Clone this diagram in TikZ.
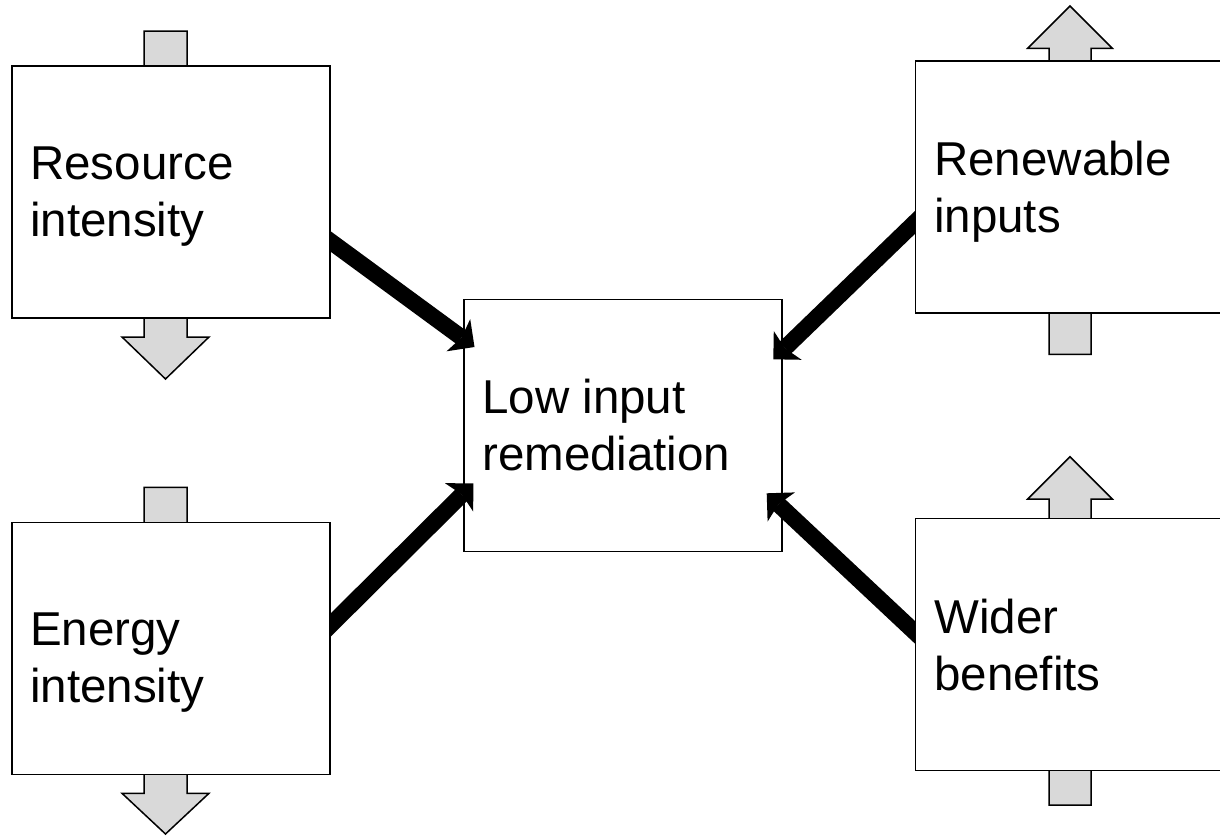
\documentclass[tikz,border=0pt]{standalone}
\usepackage{fontspec}
\setmainfont{Liberation Sans}
\usetikzlibrary{arrows.meta}
\pgfdeclarelayer{bg}
\pgfdeclarelayer{links}
\pgfsetlayers{bg,links,main}
\definecolor{blockgray}{HTML}{D9D9D9}
\newcommand\twoline[2]{\vtop{\hbox{#1}\hbox{#2}}}
\tikzset{
  box/.style={draw=black, line width=1.5pt, fill=white, rectangle, minimum width=318pt, minimum height=252pt, inner sep=0pt, outer sep=0pt, anchor=north west},
  lbl/.style={inner sep=0pt, anchor=base west, font=\fontsize{47.5}{57}\selectfont},
  blockarrow/.style={draw=black, fill=blockgray, line width=1.5pt, line join=miter},
  link/.style={line width=16.5pt, -{Stealth[length=20pt,width=40pt,inset=4pt,line width=0pt]}, shorten <=-25pt},
}
\begin{document}
\begin{tikzpicture}[x=1pt,y=-1pt]
\useasboundingbox (0,0) rectangle (1220,835);
\clip (0,0) rectangle (1220,835);
\begin{pgfonlayer}{bg}
  \draw[blockarrow] (144,31) -- (187,31) -- (187,337) -- (209,337) -- (165.5,379) -- (122,337) -- (144,337) -- cycle;
  \draw[blockarrow] (144,487.3) -- (187,487.3) -- (187,793.3) -- (209,793.3) -- (165.5,834) -- (122,793.3) -- (144,793.3) -- cycle;
  \draw[blockarrow] (1049,354.3) -- (1091,354.3) -- (1091,48.3) -- (1112.3,48.3) -- (1070,6) -- (1027.7,48.3) -- (1049,48.3) -- cycle;
  \draw[blockarrow] (1049,805) -- (1091,805) -- (1091,499) -- (1112.3,499) -- (1070,456.7) -- (1027.7,499) -- (1049,499) -- cycle;
  \node[box] (low) at (464,299.3) {};
\end{pgfonlayer}
\node[box] (res) at (12,66) {};
\node[box] (ene) at (12,522.7) {};
\node[box] (ren) at (915.7,61) {};
\node[box] (wid) at (915.7,518.3) {};
\node[lbl] (resT) at (30,179) {\twoline{Resource}{intensity}};
\node[lbl] (eneT) at (30,645) {\twoline{Energy}{intensity}};
\node[lbl] (renT) at (934,175) {\twoline{Renewable}{inputs}};
\node[lbl] (widT) at (934,633) {\twoline{Wider}{benefits}};
\node[lbl] (lowT) at (482,413) {\twoline{Low input}{remediation}};
\begin{pgfonlayer}{links}
  \draw[link] ([yshift=-175pt]res.north east) -- ([xshift=10.5pt,yshift=-47.7pt]low.north west);
  \draw[link] ([yshift=-103pt]ene.north east) -- ([xshift=9.3pt,yshift=-184pt]low.north west);
  \draw[link] ([yshift=-160.7pt]ren.north west) -- ([xshift=-8.7pt,yshift=-60pt]low.north east);
  \draw[link] ([yshift=-114.7pt]wid.north west) -- ([xshift=-15.3pt,yshift=-194pt]low.north east);
\end{pgfonlayer}
\end{tikzpicture}
\end{document}
